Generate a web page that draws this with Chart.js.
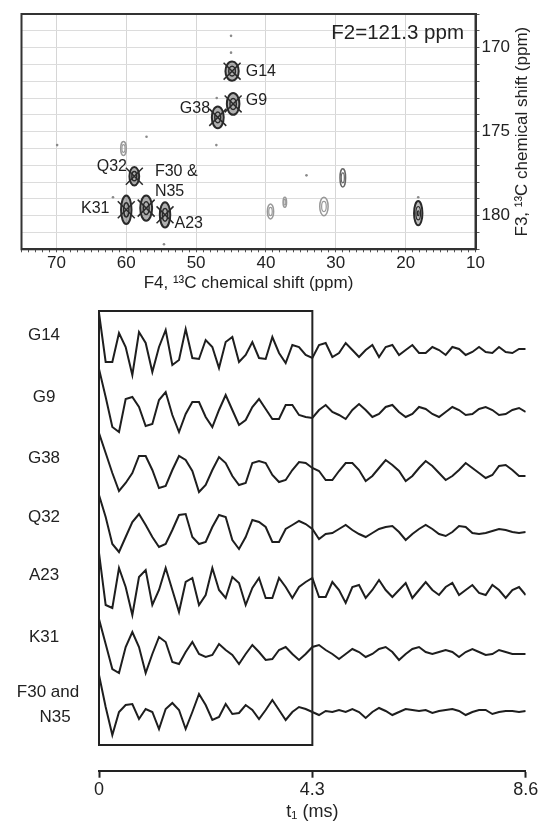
<!DOCTYPE html>
<html>
<head>
<meta charset="utf-8">
<script src="https://cdn.jsdelivr.net/npm/chart.js@4"></script>
<style>
  body { margin:0; background:#fff; }
  #wrap { position:relative; width:545px; height:830px; }
  canvas { position:absolute; left:0; }
  #spec { top:0; }
  #fid { top:300px; }
</style>
</head>
<body>
<div id="wrap">
  <canvas id="spec" width="545" height="300"></canvas>
  <canvas id="fid" width="545" height="530"></canvas>
</div>
<script>
var FONT = "'Liberation Sans', Arial, Helvetica, sans-serif";
Chart.defaults.font.family = FONT;

// ---- top panel: F3/F4 plane at F2 = 121.3 ppm ----
// assigned cross peaks (marked with X)
var peakF4 = [44.85, 44.7, 46.9, 58.85, 60.0, 57.15, 54.45];
var peakF3 = [171.4, 173.35, 174.15, 177.65, 179.65, 179.55, 179.95];
var peakW4 = [0.95, 0.9, 0.85, 0.7, 0.75, 0.85, 0.75];
var peakW3 = [0.57, 0.65, 0.65, 0.55, 0.85, 0.75, 0.75];

// other cross peaks, level 2 = dark, 1 = medium, 0 = light
var otherF4 = [18.2, 29.0, 60.4, 39.35, 37.3, 31.7];
var otherF3 = [179.85, 177.75, 176.0, 179.75, 179.2, 179.45];
var otherW4 = [0.6, 0.4, 0.4, 0.45, 0.25, 0.6];
var otherW3 = [0.72, 0.55, 0.42, 0.45, 0.3, 0.55];
var otherLevel = [2, 1, 0, 0, 0, 0];

// single noise specks
var noiseF4 = [69.9, 57.1, 45.0, 45.0, 47.05, 47.1, 34.2, 54.6, 61.9, 18.2];
var noiseF3 = [175.8, 175.3, 170.3, 169.3, 173.0, 175.8, 177.6, 181.7, 178.9, 178.9];

// peak labels
var labelText  = ['G14', 'G9', 'G38', 'Q32', 'F30 &', 'N35', 'K31', 'A23'];
var labelF4    = [42.9, 42.9, 48.0, 59.9, 55.9, 55.9, 62.4, 53.1];
var labelF3    = [171.4, 173.15, 173.6, 177.1, 177.35, 178.55, 179.56, 180.5];
var labelAlign = ['left', 'left', 'right', 'right', 'left', 'left', 'right', 'left'];

// ---- bottom panel: t1 build-up traces ----
var traceNames = ['G14', 'G9', 'G38', 'Q32', 'A23', 'K31', 'F30 and\nN35'];
var tMax = 8.6;
var nPts = 65;
var tTicks = [0, 4.3, 8.6];
var tTickLabels = ['0', '4.3', '8.6'];

var g14 = [37,-12,-12,17,3,-25,18,7,-22,3,20,-15,-10,21,-8,-9,10,3,-18,8,13,-12,-5,8,-8,-9,13,-3,-13,5,3,-5,-8,
           5,7,-7,-3,7,0,-7,0,5,-7,3,5,-5,0,5,-3,-3,3,0,-5,3,1,-5,-2,3,-2,-3,3,-2,-3,1,1];
var g9  = [43,15,-15,-20,13,15,5,-14,-12,12,20,-3,-20,-2,10,10,-5,-15,2,17,2,-13,-8,5,13,3,-7,-7,7,7,-3,-5,-6,
           2,7,0,-3,-7,2,8,2,-5,-2,5,7,0,-5,-2,5,3,-2,-5,0,5,2,-3,-2,3,5,2,-3,-2,2,4,0];
var g38 = [40,20,0,-18,-10,0,17,17,3,-15,-13,3,17,13,2,-19,-12,3,16,10,-3,-12,-10,10,12,10,-2,-9,-7,3,11,10,5,
           2,-7,-7,2,10,10,3,-8,-3,5,13,8,2,-8,-3,5,12,7,0,-7,-3,3,10,5,0,-5,-2,7,8,3,-3,-3];
var q32 = [37,15,-12,-20,-5,10,18,7,-5,-15,-12,2,17,18,-5,-12,-10,5,17,15,-8,-17,-5,12,10,5,-10,-10,3,7,11,8,3,
           -7,-2,-1,3,7,2,-2,-5,-1,3,5,6,0,-8,-2,3,7,3,-2,-4,0,6,5,-1,-2,-1,1,3,2,0,-1,0];
var a23 = [37,-15,-18,22,3,-25,13,20,-15,0,22,0,-22,8,12,-15,-5,22,0,-8,13,7,-15,2,12,-8,-8,12,3,-8,3,8,12,
           -7,-7,8,0,-13,3,5,-8,0,10,0,-7,0,7,-8,0,8,0,-5,3,7,-5,0,5,-3,-5,5,0,-8,0,3,-5];
var k31 = [33,8,-17,-21,5,20,5,-21,-2,15,10,-10,-12,0,10,-2,-5,-3,8,2,-3,-12,-2,7,0,-8,-7,2,5,-2,-8,-2,5,
           7,2,-2,-7,-2,3,0,-5,-2,3,5,0,-8,-2,3,5,0,-2,0,2,0,-5,0,3,0,-3,-2,2,0,-2,-2,-2];
var f30 = [37,5,-23,0,7,8,-7,3,0,-17,3,9,2,-17,0,18,7,-8,-5,8,-2,-1,7,2,-7,2,12,2,-8,0,5,3,0,
           -3,1,0,2,0,3,0,-6,0,4,1,-3,0,3,2,1,2,-1,1,2,3,1,-3,0,2,2,-2,0,1,1,0,1];
var traces = [g14, g9, g38, q32, a23, k31, f30];

// vertical stacking of the traces (axis units)
var traceOffset = [0, -62, -123, -182, -240, -302, -362];
var boxT = [0, 4.3];
var boxY = [39, -395];

// ---------- top chart ----------
var specPlugin = {
  id: 'spec',
  beforeDatasetsDraw: function(chart) {
    var ctx = chart.ctx, xs = chart.scales.x, ys = chart.scales.y, a = chart.chartArea;
    ctx.save();
    ctx.beginPath(); ctx.rect(a.left, a.top, a.right - a.left, a.bottom - a.top); ctx.clip();
    function ell(x, y, w, h, k) {
      var px = xs.getPixelForValue(x), py = ys.getPixelForValue(y);
      var rx = Math.abs(xs.getPixelForValue(x + w) - px) * k;
      var ry = Math.abs(ys.getPixelForValue(y + h) - py) * k;
      ctx.beginPath(); ctx.ellipse(px, py, rx, ry, 0, 0, Math.PI * 2);
    }
    // assigned peaks
    for (var i = 0; i < peakF4.length; i++) {
      ell(peakF4[i], peakF3[i], peakW4[i], peakW3[i], 1);
      ctx.fillStyle = 'rgba(110,110,110,0.55)'; ctx.fill();
      ctx.lineWidth = 2; ctx.strokeStyle = '#2a2a2a'; ctx.stroke();
      ell(peakF4[i], peakF3[i], peakW4[i], peakW3[i], 0.5);
      ctx.lineWidth = 1.5; ctx.stroke();
    }
    for (var j = 0; j < otherF4.length; j++) {
      var lv = otherLevel[j];
      var col = lv === 2 ? '#2a2a2a' : (lv === 1 ? '#666' : '#999');
      ctx.strokeStyle = col;
      ell(otherF4[j], otherF3[j], otherW4[j], otherW3[j], 1);
      if (lv === 2) { ctx.fillStyle = 'rgba(120,120,120,0.5)'; ctx.fill(); }
      ctx.lineWidth = lv === 2 ? 2 : 1.5; ctx.stroke();
      ell(otherF4[j], otherF3[j], otherW4[j], otherW3[j], 0.55);
      ctx.lineWidth = 1.2; ctx.stroke();
      if (lv === 2) { ell(otherF4[j], otherF3[j], otherW4[j], otherW3[j], 0.2); ctx.stroke(); }
    }
    ctx.fillStyle = '#8a8a8a';
    for (var n = 0; n < noiseF4.length; n++) {
      ctx.beginPath();
      ctx.arc(xs.getPixelForValue(noiseF4[n]), ys.getPixelForValue(noiseF3[n]), 1.3, 0, Math.PI * 2);
      ctx.fill();
    }
    ctx.restore();
  },
  afterDraw: function(chart) {
    var ctx = chart.ctx, xs = chart.scales.x, ys = chart.scales.y, a = chart.chartArea;
    ctx.save();
    ctx.strokeStyle = '#333'; ctx.lineWidth = 2;
    ctx.strokeRect(a.left, a.top, a.right - a.left, a.bottom - a.top);
    ctx.fillStyle = '#222';
    ctx.textBaseline = 'middle';
    ctx.font = '16px ' + FONT;
    for (var i = 0; i < labelText.length; i++) {
      ctx.textAlign = labelAlign[i];
      ctx.fillText(labelText[i], xs.getPixelForValue(labelF4[i]), ys.getPixelForValue(labelF3[i]));
    }
    ctx.font = '20.5px ' + FONT;
    ctx.textAlign = 'right';
    ctx.fillText('F2=121.3 ppm', a.right - 11.5, a.top + 19.5);
    // right axis title, reading bottom to top
    ctx.font = '17px ' + FONT;
    ctx.textAlign = 'center';
    ctx.translate(522, (a.top + a.bottom) / 2);
    ctx.rotate(-Math.PI / 2);
    ctx.fillText('F3, \u00b9\u00b3C chemical shift (ppm)', 0, 0);
    ctx.restore();
  }
};

new Chart(document.getElementById('spec'), {
  type: 'scatter',
  data: {
    datasets: [{
      data: peakF4.map(function(x, i) { return {x: x, y: peakF3[i]}; }),
      pointStyle: 'crossRot',
      pointRadius: 12,
      borderColor: '#2b2b2b',
      borderWidth: 1.5,
      backgroundColor: 'transparent'
    }]
  },
  options: {
    responsive: false,
    animation: false,
    layout: { padding: { left: 21.5, top: 14, right: 0, bottom: 0 } },
    plugins: { legend: { display: false }, tooltip: { enabled: false } },
    scales: {
      x: {
        type: 'linear', reverse: true, min: 10, max: 75, position: 'bottom',
        ticks: {
          stepSize: 1, autoSkip: false, maxTicksLimit: 100, maxRotation: 0, padding: 1,
          font: { size: 17 }, color: '#222',
          callback: function(v) { return (v % 10 === 0 && v <= 70) ? String(v) : ''; }
        },
        grid: {
          color: function(c) {
            var v = c.tick ? c.tick.value : 0;
            return (v % 10 === 0 && v > 10 && v < 75) ? '#d6d6d6' : 'rgba(0,0,0,0)';
          },
          tickColor: '#555', tickLength: 3
        },
        border: { color: '#333', width: 2 },
        title: { display: true, text: 'F4, \u00b9\u00b3C chemical shift (ppm)', font: { size: 17 }, color: '#222', padding: { top: 0, bottom: 6.5 } },
        afterFit: function(s) { s.height = 50.7; }
      },
      y: {
        type: 'linear', reverse: true, min: 168, max: 182, position: 'right',
        ticks: {
          stepSize: 1, autoSkip: false, maxTicksLimit: 100, padding: 2,
          font: { size: 17 }, color: '#222',
          callback: function(v) { return v % 5 === 0 ? String(v) : ''; }
        },
        grid: { color: '#dcdcdc', tickColor: '#555', tickLength: 4 },
        border: { color: '#333', width: 2 },
        afterFit: function(s) { s.width = 69.5; }
      }
    }
  },
  plugins: [specPlugin]
});

// ---------- bottom chart ----------
var fidPlugin = {
  id: 'fid',
  afterDatasetsDraw: function(chart) {
    var ctx = chart.ctx, xs = chart.scales.x, ys = chart.scales.y;
    var l = xs.getPixelForValue(boxT[0]), r = xs.getPixelForValue(boxT[1]);
    var t = ys.getPixelForValue(boxY[0]), b = ys.getPixelForValue(boxY[1]);
    ctx.save();
    ctx.strokeStyle = '#222'; ctx.lineWidth = 2;
    ctx.strokeRect(l, t, r - l, b - t);
    ctx.fillStyle = '#222';
    ctx.font = '17px ' + FONT;
    ctx.textAlign = 'center'; ctx.textBaseline = 'middle';
    for (var k = 0; k < traceNames.length; k++) {
      var lines = traceNames[k].split('\n');
      if (lines.length === 1) {
        ctx.fillText(lines[0], 44, ys.getPixelForValue(traceOffset[k] + 15));
      } else {
        ctx.fillText(lines[0], 48, ys.getPixelForValue(traceOffset[k] + 20));
        ctx.fillText(lines[1], 55, ys.getPixelForValue(traceOffset[k] - 5));
      }
    }
    ctx.restore();
  }
};

new Chart(document.getElementById('fid'), {
  type: 'line',
  data: {
    datasets: traces.map(function(vals, k) {
      return {
        data: vals.map(function(v, i) { return { x: i * tMax / (nPts - 1), y: traceOffset[k] + v }; }),
        borderColor: '#1e1e1e',
        borderWidth: 2,
        pointRadius: 0,
        tension: 0,
        fill: false
      };
    })
  },
  options: {
    responsive: false,
    animation: false,
    layout: { padding: { left: 99, right: 19.3, top: 5, bottom: 0 } },
    plugins: { legend: { display: false }, tooltip: { enabled: false } },
    scales: {
      x: {
        type: 'linear', min: 0, max: tMax,
        afterBuildTicks: function(s) { s.ticks = tTicks.map(function(v) { return { value: v }; }); },
        ticks: {
          autoSkip: false, maxRotation: 0, padding: 2, font: { size: 18 }, color: '#222',
          callback: function(v, i) { return tTickLabels[i]; }
        },
        grid: { drawOnChartArea: false, tickLength: 7, tickColor: '#222', tickWidth: 2 },
        border: { color: '#222', width: 2 },
        title: { display: true, text: 't\u2081 (ms)', font: { size: 18 }, color: '#222', padding: { top: 0, bottom: 7 } },
        afterFit: function(s) { s.height = 59.3; }
      },
      y: { display: false, min: -420.7, max: 45 }
    }
  },
  plugins: [fidPlugin]
});
</script>
</body>
</html>
